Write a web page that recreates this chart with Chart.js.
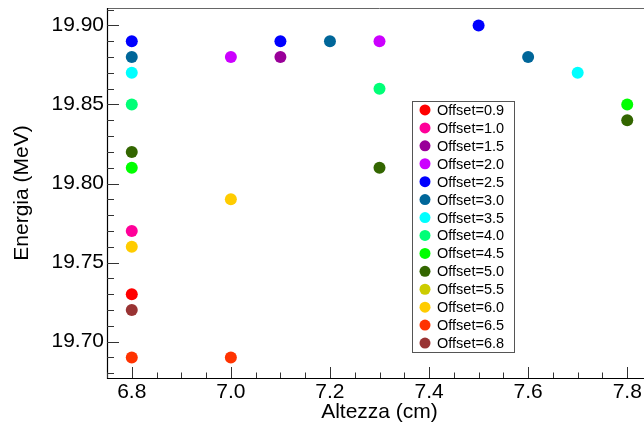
<!DOCTYPE html>
<html>
<head>
<meta charset="utf-8">
<script src="https://cdn.jsdelivr.net/npm/chart.js@4.4.1/dist/chart.umd.min.js"></script>
<style>
  html, body { margin: 0; padding: 0; background: #fff; overflow: hidden; width: 644px; height: 426px; }
  #wrap { width: 644px; height: 426px; overflow: hidden; position: relative; }
  canvas { display: block; }
</style>
</head>
<body>
<div id="wrap"><canvas id="c" width="670" height="426"></canvas></div>
<script>
// Series names and marker colours, one per offset
const offsetLabels = ['Offset=0.9', 'Offset=1.0', 'Offset=1.5', 'Offset=2.0', 'Offset=2.5', 'Offset=3.0', 'Offset=3.5',
                      'Offset=4.0', 'Offset=4.5', 'Offset=5.0', 'Offset=5.5', 'Offset=6.0', 'Offset=6.5', 'Offset=6.8'];
const offsetColors = ['#ff0000', '#ff0099', '#990099', '#cc00ff', '#0000ff', '#006699', '#00ffff',
                      '#00ff77', '#00ff00', '#336600', '#cccc00', '#ffcc00', '#ff3300', '#993333'];

// [altezza (cm), energia (MeV)] pairs for each offset
const off09 = [[6.8, 19.73]];
const off10 = [[6.8, 19.77]];
const off15 = [[7.1, 19.88]];
const off20 = [[7.0, 19.88], [7.3, 19.89]];
const off25 = [[6.8, 19.89], [7.1, 19.89], [7.5, 19.90]];
const off30 = [[6.8, 19.88], [7.2, 19.89], [7.6, 19.88]];
const off35 = [[6.8, 19.87], [7.7, 19.87]];
const off40 = [[6.8, 19.85], [7.3, 19.86]];
const off45 = [[6.8, 19.81], [7.8, 19.85]];
const off50 = [[6.8, 19.82], [7.3, 19.81], [7.8, 19.84]];
const off55 = [];
const off60 = [[6.8, 19.76], [7.0, 19.79]];
const off65 = [[6.8, 19.69], [7.0, 19.69]];
const off68 = [[6.8, 19.72]];

// Axis tick labels
const xTicks = [6.8, 7.0, 7.2, 7.4, 7.6, 7.8];
const yTicks = [19.70, 19.75, 19.80, 19.85, 19.90];

const series = [off09, off10, off15, off20, off25, off30, off35, off40, off45, off50, off55, off60, off65, off68];

const FONT = '"Liberation Sans", Arial, Helvetica, sans-serif';

const datasets = series.map((pts, i) => ({
  label: offsetLabels[i],
  data: pts.map(p => ({ x: p[0], y: p[1] })),
  backgroundColor: offsetColors[i],
  borderColor: offsetColors[i],
  borderWidth: 0,
  pointRadius: 6,
  pointHoverRadius: 6,
  showLine: false
}));

// Frame line on top, axis lines and inward major/minor ticks
const framePlugin = {
  id: 'frame',
  afterDatasetsDraw(chart) {
    const ctx = chart.ctx;
    const a = chart.chartArea;
    const xs = chart.scales.x, ys = chart.scales.y;
    ctx.save();
    // top frame
    ctx.strokeStyle = '#666';
    ctx.lineWidth = 1;
    ctx.beginPath();
    ctx.moveTo(a.left, a.top + 0.5);
    ctx.lineTo(a.right, a.top + 0.5);
    ctx.stroke();
    // axes
    ctx.strokeStyle = '#000';
    ctx.lineWidth = 1.2;
    ctx.beginPath();
    ctx.moveTo(a.left + 0.5, a.top);
    ctx.lineTo(a.left + 0.5, a.bottom + 0.5);
    ctx.lineTo(a.right, a.bottom + 0.5);
    ctx.stroke();
    // ticks
    ctx.strokeStyle = '#333';
    ctx.lineWidth = 1;
    ctx.beginPath();
    const y0 = Math.ceil(ys.min * 100 - 1e-6), y1 = Math.floor(ys.max * 100 + 1e-6);
    for (let k = y0; k <= y1; k++) {
      const py = Math.round(ys.getPixelForValue(k / 100)) + 0.5;
      const len = (k % 5 === 0) ? 12 : 7;
      ctx.moveTo(a.left, py);
      ctx.lineTo(a.left + len, py);
    }
    const x0 = Math.ceil(xs.min * 20 - 1e-6), x1 = Math.floor(xs.max * 20 + 1e-6);
    for (let k = x0; k <= x1; k++) {
      const px = Math.round(xs.getPixelForValue(k / 20)) + 0.5;
      const len = (k % 4 === 0) ? 11 : 5.5;
      ctx.moveTo(px, a.bottom);
      ctx.lineTo(px, a.bottom - len);
    }
    ctx.stroke();
    ctx.restore();
  }
};

// Boxed legend inside the plot area
const boxLegend = {
  id: 'boxLegend',
  afterDraw(chart) {
    const ctx = chart.ctx;
    const left = 412, top = 101, right = 514, bottom = 352;
    const n = chart.data.datasets.length;
    const step = (bottom - top) / n;
    ctx.save();
    ctx.fillStyle = '#fff';
    ctx.fillRect(left, top, right - left, bottom - top);
    ctx.strokeStyle = '#555';
    ctx.lineWidth = 1;
    ctx.strokeRect(left + 0.5, top + 0.5, right - left, bottom - top);
    ctx.font = '14.5px ' + FONT;
    ctx.textBaseline = 'middle';
    ctx.textAlign = 'left';
    chart.data.datasets.forEach((ds, i) => {
      const cy = top + (i + 0.5) * step;
      ctx.fillStyle = ds.backgroundColor;
      ctx.beginPath();
      ctx.arc(425, cy, 5.5, 0, Math.PI * 2);
      ctx.fill();
      ctx.fillStyle = '#000';
      ctx.fillText(ds.label, 437, cy + 1);
    });
    ctx.restore();
  }
};

// Fixed scale sizes with no extra edge padding from tick labels
const fixSize = (prop, size) => s => {
  s[prop] = size;
  s.paddingTop = 0; s.paddingBottom = 0; s.paddingLeft = 0; s.paddingRight = 0;
};

new Chart(document.getElementById('c'), {
  type: 'scatter',
  data: { datasets },
  options: {
    responsive: false,
    animation: false,
    events: [],
    layout: { autoPadding: false, padding: { top: 8, right: 18, left: 0, bottom: 0 } },
    plugins: {
      legend: { display: false },
      tooltip: { enabled: false }
    },
    scales: {
      x: {
        type: 'linear',
        min: 6.75,
        max: 7.85,
        afterBuildTicks: s => { s.ticks = xTicks.map(v => ({ value: v })); },
        afterFit: fixSize('height', 48),
        grid: { display: false, drawTicks: false },
        border: { display: false },
        ticks: {
          color: '#000',
          font: { family: FONT, size: 21 },
          padding: 2,
          maxRotation: 0,
          autoSkip: false,
          callback: v => Number(v).toFixed(1)
        },
        title: {
          display: true,
          text: 'Altezza (cm)',
          color: '#000',
          font: { family: FONT, size: 21 },
          padding: { top: 0, bottom: 1 }
        }
      },
      y: {
        type: 'linear',
        min: 19.677,
        max: 19.911,
        afterBuildTicks: s => { s.ticks = yTicks.map(v => ({ value: v })); },
        afterFit: fixSize('width', 107),
        grid: { display: false, drawTicks: false },
        border: { display: false },
        ticks: {
          color: '#000',
          font: { family: FONT, size: 21 },
          padding: 3,
          autoSkip: false,
          callback: v => Number(v).toFixed(2)
        },
        title: {
          display: true,
          text: 'Energia (MeV)',
          color: '#000',
          font: { family: FONT, size: 21 },
          padding: { top: 10, bottom: 0 }
        }
      }
    }
  },
  plugins: [framePlugin, boxLegend]
});
</script>
</body>
</html>
